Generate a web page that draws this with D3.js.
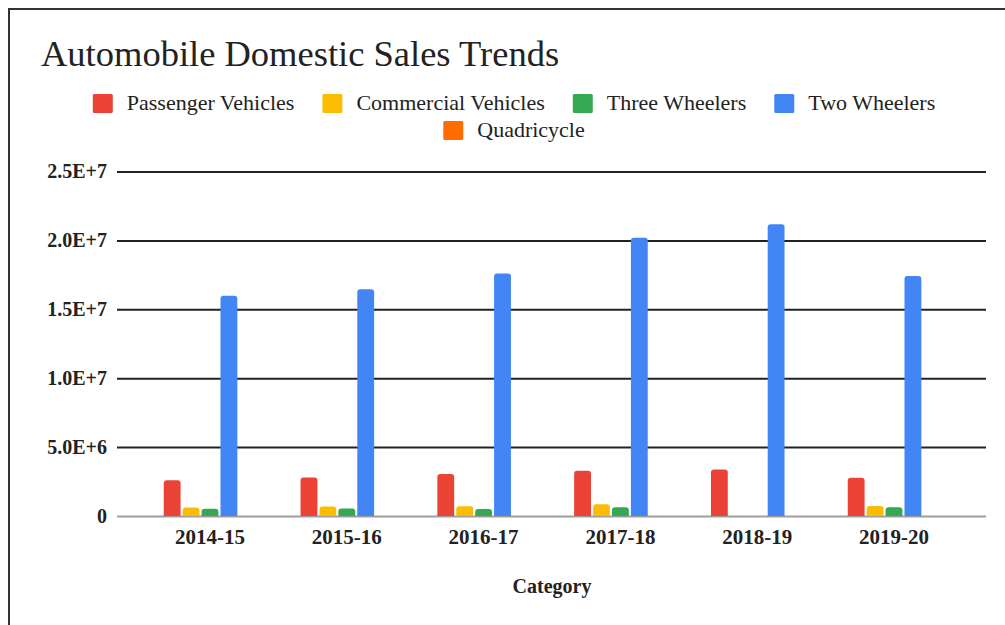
<!DOCTYPE html>
<html>
<head>
<meta charset="utf-8">
<script src="https://cdn.jsdelivr.net/npm/d3@7"></script>
<style>
  html, body { margin: 0; padding: 0; background: #fff; }
  svg { display: block; }
  text { font-family: "Liberation Serif", "DejaVu Serif", serif; fill: #222; }
</style>
</head>
<body>
<svg id="chart" width="1005" height="625"></svg>
<script>
// Domestic sales by fiscal year (units)
const categories = ["2014-15", "2015-16", "2016-17", "2017-18", "2018-19", "2019-20"];
const seriesNames = ["Passenger Vehicles", "Commercial Vehicles", "Three Wheelers", "Two Wheelers", "Quadricycle"];
const passengerVehicles  = [2601000, 2790000, 3048000, 3289000, 3377000, 2774000];
const commercialVehicles = [615000, 686000, 714000, 857000, null, 718000];
const threeWheelers      = [533000, 538000, 512000, 636000, null, 637000];
const twoWheelers        = [15976000, 16456000, 17590000, 20200000, 21180000, 17416000];
const quadricycle        = [0, 0, 0, 0, 0, 0];
const yTicks = [0, 5000000, 10000000, 15000000, 20000000, 25000000];
const colors = ["#ea4335", "#fbbc04", "#34a853", "#4285f4", "#ff6d01"];

const seriesValues = [passengerVehicles, commercialVehicles, threeWheelers, twoWheelers, quadricycle];

const svg = d3.select("#chart");

// frame
svg.append("path")
  .attr("d", "M9,625V9H1005")
  .attr("fill", "none")
  .attr("stroke", "#333")
  .attr("stroke-width", 2);

// title
svg.append("text")
  .attr("x", 41).attr("y", 66)
  .style("font-size", "36.5px")
  .text("Automobile Domestic Sales Trends");

// scales
const plotLeft = 117, plotRight = 986;
const y = d3.scaleLinear().domain([0, 25000000]).range([516, 171.5]);
const x = d3.scaleBand().domain(categories).range([141.6, 962.4]);
const xs = d3.scaleBand().domain(seriesNames).range([0, 92.5]).paddingInner(0.11);

// gridlines + y labels
const yAxis = d3.axisLeft(y)
  .tickValues(yTicks)
  .tickSize(-(plotRight - plotLeft))
  .tickPadding(10)
  .tickFormat(d => d === 0 ? "0" : d3.format(".1e")(d).toUpperCase());

const gy = svg.append("g")
  .attr("transform", `translate(${plotLeft},0)`)
  .call(yAxis);
gy.select(".domain").remove();
gy.selectAll(".tick line")
  .attr("stroke", d => d === 0 ? "#9e9e9e" : "#222")
  .attr("stroke-width", 2);
gy.selectAll(".tick text")
  .attr("fill", "#222")
  .style("font-family", "'Liberation Serif', serif")
  .style("font-size", "20px")
  .style("font-weight", "bold");

// bars with rounded tops
function barPath(x0, w, yTop, yBase, r) {
  const h = yBase - yTop;
  if (h <= 0) return "";
  r = Math.min(r, h, w / 2);
  return `M${x0},${yBase}V${yTop + r}Q${x0},${yTop} ${x0 + r},${yTop}` +
         `H${x0 + w - r}Q${x0 + w},${yTop} ${x0 + w},${yTop + r}V${yBase}Z`;
}

const bars = [];
categories.forEach((c, i) => {
  seriesNames.forEach((s, j) => {
    const v = seriesValues[j][i];
    if (v !== null && v > 0) bars.push({ c, s, v, color: colors[j] });
  });
});

svg.append("g").selectAll("path")
  .data(bars)
  .join("path")
  .attr("fill", d => d.color)
  .attr("d", d => {
    const x0 = x(d.c) + (x.bandwidth() - 92.5) / 2 + xs(d.s);
    return barPath(x0, xs.bandwidth(), y(d.v), y(0), 3);
  });

// x labels
const xAxis = d3.axisBottom(x).tickSize(0).tickPadding(13);
const gx = svg.append("g")
  .attr("transform", `translate(0,${y(0)})`)
  .call(xAxis);
gx.select(".domain").remove();
gx.selectAll(".tick text")
  .attr("fill", "#222")
  .style("font-family", "'Liberation Serif', serif")
  .style("font-size", "21px")
  .style("font-weight", "bold");

// x axis title
svg.append("text")
  .attr("x", 552).attr("y", 593)
  .attr("text-anchor", "middle")
  .style("font-size", "20px")
  .style("font-weight", "bold")
  .text("Category");

// legend: two centred rows
const legendRows = [seriesNames.slice(0, 4), seriesNames.slice(4)];
const legendY = [94, 121];
const sw = 20, gapText = 14, gapItem = 28, legendCenter = 514;
legendRows.forEach((row, r) => {
  const g = svg.append("g");
  let cx = 0;
  row.forEach(name => {
    const j = seriesNames.indexOf(name);
    g.append("rect")
      .attr("x", cx).attr("y", legendY[r])
      .attr("width", sw).attr("height", 19)
      .attr("rx", 1.5)
      .attr("fill", colors[j]);
    const t = g.append("text")
      .attr("x", cx + sw + gapText).attr("y", legendY[r] + 16)
      .style("font-size", "22px")
      .text(name);
    cx += sw + gapText + t.node().getComputedTextLength() + gapItem;
  });
  const total = cx - gapItem;
  g.attr("transform", `translate(${legendCenter - total / 2},0)`);
});
</script>
</body>
</html>
